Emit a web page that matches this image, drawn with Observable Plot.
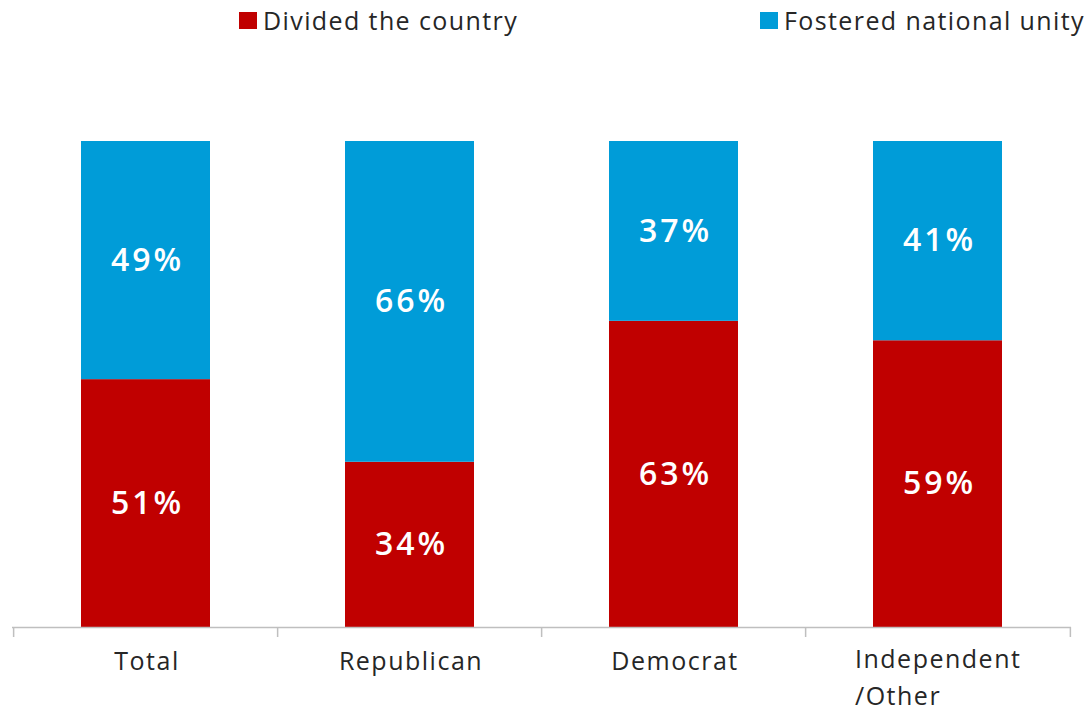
<!DOCTYPE html>
<html>
<head>
<meta charset="utf-8">
<script src="https://cdn.jsdelivr.net/npm/d3@7"></script>
<script src="https://cdn.jsdelivr.net/npm/@observablehq/plot@0.6"></script>
<style>
  html, body { margin: 0; padding: 0; background: #fff; }
  #wrap { position: relative; width: 1089px; height: 715px; font-family: "Open Sans", sans-serif; }
  .leg { position: absolute; top: 3px; display: flex; align-items: center; font-size: 25px; letter-spacing: 1.4px; color: #262626; white-space: nowrap; }
  .sw { width: 18px; height: 17px; margin-right: 6px; }
  #chart { position: absolute; left: 0; top: 0; }
</style>
</head>
<body>
<div id="wrap">
  <div id="chart"></div>
  <div class="leg" style="left:239px"><span class="sw" style="background:#C00000"></span><span id="l0"></span></div>
  <div class="leg" style="left:760px"><span class="sw" style="background:#009CD8"></span><span id="l1"></span></div>
</div>
<script>
const categories = ["Total", "Republican", "Democrat", "Independent\n/Other"];
const seriesNames = ["Divided the country", "Fostered national unity"];
const divided = [51, 34, 63, 59];
const unity = [49, 66, 37, 41];
const colors = ["#C00000", "#009CD8"];

document.getElementById("l0").textContent = seriesNames[0];
document.getElementById("l1").textContent = seriesNames[1];

const data = [];
categories.forEach((c, i) => {
  data.push({cat: c, series: seriesNames[0], value: divided[i]});
  data.push({cat: c, series: seriesNames[1], value: unity[i]});
});

const W = 1089, H = 715;
const mL = 12, mR = 18, mT = 141, mB = 88;
const step = (W - mL - mR) / categories.length;
const plotH = H - mT - mB;
const tickLen = 10 / plotH * 100;

const chart = Plot.plot({
  width: W,
  height: H,
  marginLeft: mL,
  marginRight: mR,
  marginTop: mT,
  marginBottom: mB,
  style: {fontFamily: "Open Sans, sans-serif", background: "transparent"},
  x: {domain: categories, paddingInner: 0.51, paddingOuter: 0.255, axis: null},
  y: {domain: [0, 100], axis: null},
  color: {domain: seriesNames, range: colors},
  marks: [
    Plot.barY(data, Plot.stackY({x: "cat", y: "value", fill: "series"})),
    Plot.text(data, Plot.stackY({
      x: "cat", y: "value", z: "series",
      text: d => d.value + "%", fill: "white", fontSize: 32, fontWeight: 600, dx: 1.5
    })),
    Plot.ruleY([0], {stroke: "#BFBFBF", strokeWidth: 1.5}),
    Plot.ruleX(categories, {x: d => d, y1: 0, y2: -tickLen, dx: -step / 2, stroke: "#BFBFBF", strokeWidth: 1.5}),
    Plot.ruleX(categories.slice(-1), {x: d => d, y1: 0, y2: -tickLen, dx: step / 2, stroke: "#BFBFBF", strokeWidth: 1.5}),
    Plot.text(categories.slice(0, 3), {x: d => d, y: 0, text: d => d, dy: 25, dx: 1, lineAnchor: "top", fontSize: 25, fill: "#262626"}),
    Plot.text(categories.slice(3), {x: d => d, y: 0, text: d => d, dy: 15, lineAnchor: "top", textAnchor: "start", dx: -83, lineHeight: 1.46, fontSize: 25, fill: "#262626"})
  ]
});
const textGroups = chart.querySelectorAll('g[aria-label="text"]');
textGroups[0].setAttribute("letter-spacing", "3");
textGroups[1].setAttribute("letter-spacing", "1.5");
textGroups[2].setAttribute("letter-spacing", "1.5");
document.getElementById("chart").appendChild(chart);
</script>
</body>
</html>
